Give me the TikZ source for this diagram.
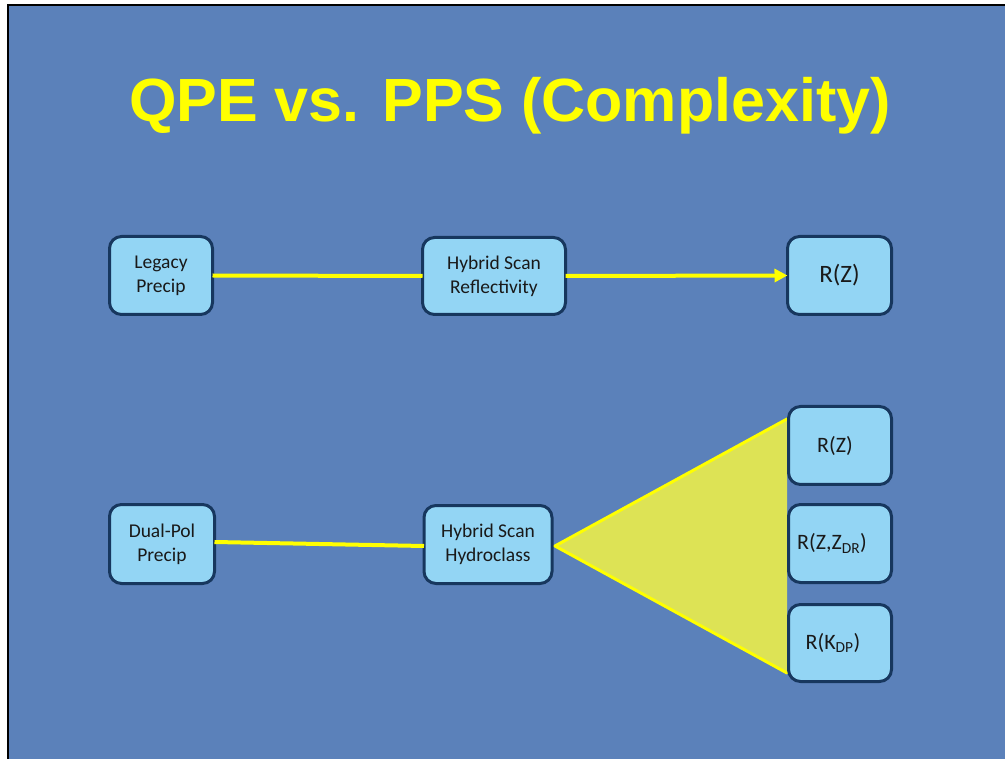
\documentclass[tikz,border=0pt]{standalone}
\usepackage{fontspec}
\setmainfont{Carlito}
\newfontfamily\titlefont{Liberation Sans}
\usetikzlibrary{arrows.meta}
\definecolor{bgblue}{RGB}{91,129,186}
\definecolor{boxfill}{RGB}{147,213,244}
\definecolor{boxline}{RGB}{23,55,94}
\definecolor{yel}{RGB}{255,255,0}
\definecolor{trifill}{RGB}{221,227,85}
\begin{document}
\begin{tikzpicture}[x=1pt,y=-1pt,
  procbox/.style={draw=boxline, line width=3pt, fill=boxfill, rounded corners=12pt,
    inner sep=0pt, outer sep=0pt, align=center, text=black!90,
    font=\fontsize{19.5}{24}\selectfont},
  rbig/.style={font=\fontsize{25}{30}\selectfont},
  rmid/.style={font=\fontsize{22}{26}\selectfont},
  link/.style={draw=yel, line width=4pt},
  tri/.style={draw=yel, line width=3pt, line cap=round}]
\useasboundingbox (0,0) rectangle (1005,759);
\fill[white] (0,0) rectangle (1005,759);
\fill[black] (7,4) rectangle (1005,759);
\fill[bgblue] (9,6) rectangle (1005,759);

\node[anchor=base, text=yel, font=\titlefont\bfseries\fontsize{61}{70}\selectfont] (title) at (510,122) {QPE vs. PPS (Complexity)};

% top row
\node[procbox, minimum width=103pt, minimum height=78pt] (legacy) at (161,275.5) {Legacy\\Precip};
\node[procbox, minimum width=143pt, minimum height=77pt] (hsr) at (494,276) {Hybrid Scan\\Reflectivity};
\node[procbox, rbig, minimum width=104pt, minimum height=78pt] (rz1) at (839.5,275.5) {R(Z)};

% bottom row
\coordinate (tv) at (787,419);
\coordinate (bv) at (787,673);
\coordinate (apex) at (555,546);
\fill[trifill] (apex) -- (tv) -- (bv) -- cycle;
\draw[tri] (tv) -- (apex) -- (bv);

\node[procbox, minimum width=105pt, minimum height=79pt] (dual) at (162,544) {Dual-Pol\\Precip};
\node[procbox, minimum width=128pt, minimum height=78pt] (hsh) at (488,544.5) {Hybrid Scan\\Hydroclass};
\node[procbox, rmid, minimum width=103pt, minimum height=78pt] (rz2) at (840,445.5) {R(Z)\kern10pt};
\node[procbox, rmid, minimum width=103pt, minimum height=78pt] (rzdr) at (840,543.5) {R(Z,Z\textsubscript{DR})\kern16pt};
\node[procbox, rmid, minimum width=103pt, minimum height=77pt] (rkdp) at (840,643) {R(K\textsubscript{DP})\kern14pt};

% connectors
\draw[link] (legacy.east) -- (hsr.west);
\draw[link, -{Triangle[length=13pt,width=13pt]}] (hsr.east) -- (rz1.west);
\draw[link] ([yshift=2pt]dual.east) -- ([yshift=-1.5pt]hsh.west);
\end{tikzpicture}
\end{document}
